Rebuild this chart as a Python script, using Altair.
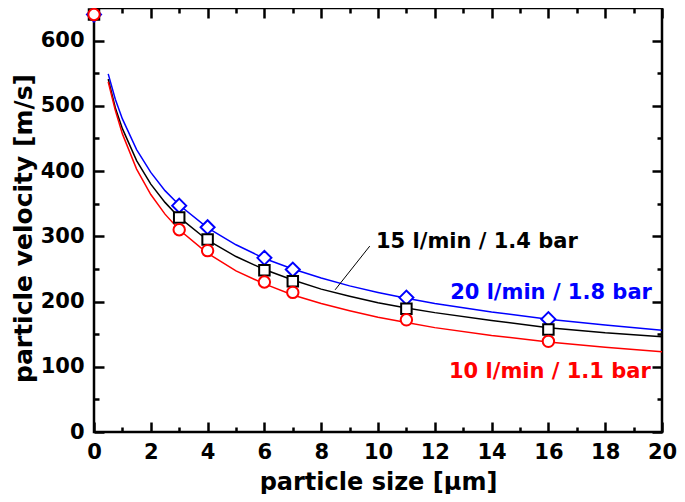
import altair as alt
import pandas as pd

FONT = "DejaVu Sans"

series = ["20 l/min / 1.8 bar", "15 l/min / 1.4 bar", "10 l/min / 1.1 bar"]
colors = ["#0000ff", "#000000", "#ff0000"]

# measured points
size_um = [0, 3, 4, 6, 7, 11, 16]
vel_20 = [640, 347, 314, 267, 249, 206, 173]
vel_15 = [640, 329, 295, 248, 231, 189, 157]
vel_10 = [640, 310, 278, 230, 214, 172, 139]

# fit curves
fit_size = [0.5, 0.75, 1, 1.5, 2, 2.5, 3, 4, 5, 6, 7, 8, 9, 10, 11, 12, 14, 16, 18, 20]
fit_20 = [549, 510, 480, 433, 398, 370, 348, 313, 287, 266, 250, 236, 224, 214, 205, 197, 184, 173, 164, 156]
fit_15 = [541, 497, 465, 416, 380, 352, 329, 294, 269, 249, 233, 219, 208, 198, 190, 183, 171, 160, 152, 146]
fit_10 = [537, 493, 457, 403, 364, 334, 310, 274, 247, 227, 210, 197, 186, 176, 168, 160, 148, 138, 130, 123]

# annotation labels
label_x = [12.54, 9.93, 12.5]
label_v = [213, 292, 92]
leader_x = [9.71, 8.49]
leader_v = [285, 218]

x_major = [0, 2, 4, 6, 8, 10, 12, 14, 16, 18, 20]
x_minor = [1, 3, 5, 7, 9, 11, 13, 15, 17, 19]
y_major = [0, 100, 200, 300, 400, 500, 600]
y_minor = [50, 150, 250, 350, 450, 550]

W, H = 568, 424

pts = pd.DataFrame({
    "x": size_um * 3,
    "v": vel_20 + vel_15 + vel_10,
    "series": [series[0]] * 7 + [series[1]] * 7 + [series[2]] * 7,
})
fit = pd.DataFrame({
    "x": fit_size * 3,
    "v": fit_20 + fit_15 + fit_10,
    "series": [series[0]] * len(fit_size) + [series[1]] * len(fit_size) + [series[2]] * len(fit_size),
})
labels = pd.DataFrame({"x": label_x, "v": label_v, "series": series})
leader = pd.DataFrame({"x": [leader_x[0]], "v": [leader_v[0]], "x2": [leader_x[1]], "v2": [leader_v[1]]})

xsc = alt.Scale(domain=[0, 20], nice=False, zero=False)
ysc = alt.Scale(domain=[0, 650], nice=False, zero=False)
csc = alt.Scale(domain=series, range=colors)


def tick_axis(orient, values, size, offset):
    return alt.Axis(orient=orient, values=values, labels=False, domain=False, ticks=True,
                    tickSize=size, offset=offset, tickWidth=2.5, tickColor="black",
                    grid=False, title="")


def axis_layer(ax_x, ax_y):
    return alt.Chart(pts).mark_point(opacity=0).encode(
        x=alt.X("x:Q", scale=xsc, axis=ax_x),
        y=alt.Y("v:Q", scale=ysc, axis=ax_y),
    )


ax_x_lab = alt.Axis(orient="bottom", values=x_major, ticks=False, tickSize=0, domain=False, grid=False,
                    labelFont=FONT, labelFontSize=21, labelFontWeight="bold", labelColor="black",
                    labelPadding=9, labelFlush=False, labelOverlap=False, format="d",
                    title="particle size [µm]", titleFont=FONT, titleFontSize=24, titleFontWeight="bold",
                    titleColor="black", titleY=57, titleBaseline="alphabetic")
ax_y_lab = alt.Axis(orient="left", values=y_major, ticks=False, tickSize=0, domain=False, grid=False,
                    labelFont=FONT, labelFontSize=21, labelFontWeight="bold", labelColor="black",
                    labelPadding=10, labelFlush=False, labelOverlap=False, format="d",
                    title="particle velocity [m/s]", titleFont=FONT, titleFontSize=25, titleFontWeight="bold",
                    titleColor="black", titleX=-71, titleY=220, titleAngle=270,
                    titleAlign="center", titleBaseline="middle")

layers = [
    axis_layer(ax_x_lab, ax_y_lab),
    axis_layer(tick_axis("bottom", x_major, 10, -10), tick_axis("left", y_major, 10, -10)),
    axis_layer(tick_axis("bottom", x_minor, 5, -5), tick_axis("left", y_minor, 5, -5)),
    axis_layer(tick_axis("top", x_major, 10, -10), tick_axis("right", y_major, 10, -10)),
    axis_layer(tick_axis("top", x_minor, 5, -5), tick_axis("right", y_minor, 5, -5)),
]

lines = alt.Chart(fit).mark_line(strokeWidth=1.5).encode(
    x=alt.X("x:Q", scale=xsc, axis=None),
    y=alt.Y("v:Q", scale=ysc, axis=None),
    color=alt.Color("series:N", scale=csc, legend=None),
    detail="series:N",
)

lead = alt.Chart(leader).mark_rule(strokeWidth=1, color="black").encode(
    x=alt.X("x:Q", scale=xsc, axis=None),
    y=alt.Y("v:Q", scale=ysc, axis=None),
    x2="x2:Q",
    y2="v2:Q",
)

marker_defs = [("diamond", 196), ("square", 110), ("circle", 130)]
markers = []
for s, (shape, sz) in zip(series, marker_defs):
    markers.append(
        alt.Chart(pts).transform_filter(alt.datum.series == s).mark_point(
            shape=shape, size=sz, strokeWidth=2, fill="white", fillOpacity=1, opacity=1
        ).encode(
            x=alt.X("x:Q", scale=xsc, axis=None),
            y=alt.Y("v:Q", scale=ysc, axis=None),
            color=alt.Color("series:N", scale=csc, legend=None),
        )
    )

texts = alt.Chart(labels).mark_text(
    font=FONT, fontSize=21, fontWeight="bold", align="left", baseline="middle"
).encode(
    x=alt.X("x:Q", scale=xsc, axis=None),
    y=alt.Y("v:Q", scale=ysc, axis=None),
    text="series:N",
    color=alt.Color("series:N", scale=csc, legend=None),
)

chart = alt.layer(*layers, lines, lead, *markers, texts).resolve_axis(
    x="independent", y="independent"
).properties(
    width=W, height=H, autosize="none",
    padding={"left": 86, "top": 0, "right": 15, "bottom": 62},
).configure_view(stroke="black", strokeWidth=2.5)

chart.save("out.html", embed_options={"renderer": "svg", "actions": False})
